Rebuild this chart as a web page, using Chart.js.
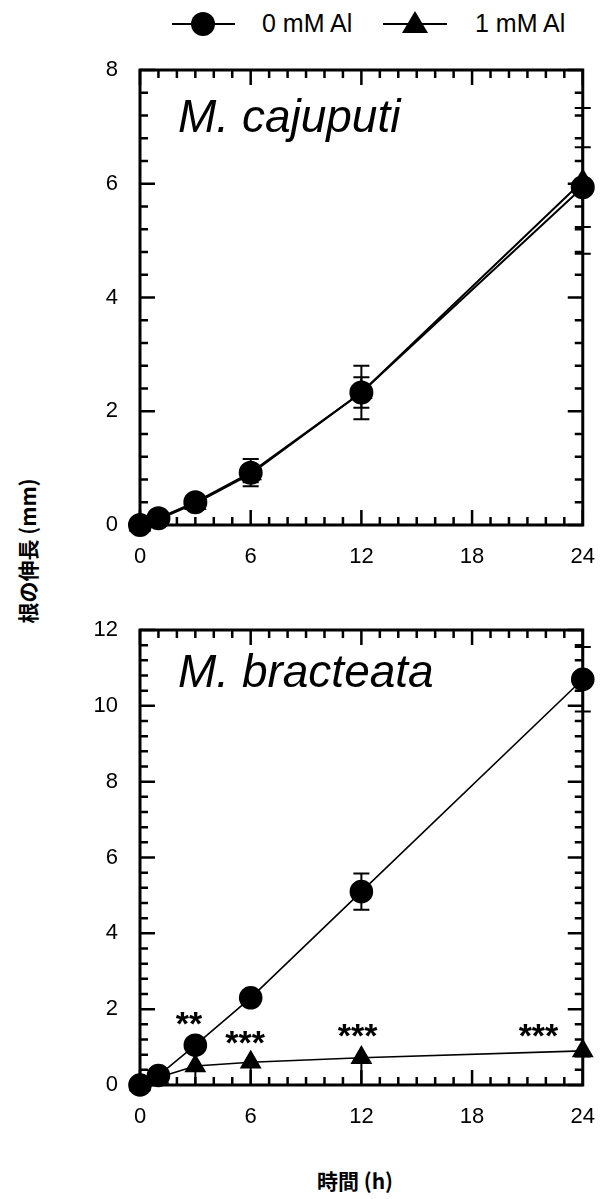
<!DOCTYPE html>
<html>
<head>
<meta charset="utf-8">
<script src="https://cdn.jsdelivr.net/npm/chart.js@4"></script>
<style>
  body { margin: 0; background: #fff; width: 606px; height: 1199px; position: relative; overflow: hidden;
         font-family: "Liberation Sans", Arial, sans-serif; }
  .pane { position: absolute; left: 0; width: 606px; height: 540px; }
  #top { top: 40px; }
  #bottom { top: 600px; }
  .lbl { position: absolute; font-size: 25px; color: #000; white-space: nowrap; }
  .cjk { position: absolute; font-family: "Noto Sans CJK JP", sans-serif; font-weight: bold; font-size: 21px; white-space: nowrap; }
</style>
</head>
<body>
<svg style="position:absolute;left:160px;top:8px" width="300" height="32">
  <line x1="12" y1="16" x2="75" y2="16" stroke="#000" stroke-width="2"/>
  <circle cx="43" cy="16" r="12" fill="#000"/>
  <line x1="223" y1="16" x2="287" y2="16" stroke="#000" stroke-width="2"/>
  <polygon points="255,3 268,25 242,25" fill="#000"/>
</svg>
<div class="lbl" style="left:262px;top:9px">0 mM Al</div>
<div class="lbl" style="left:475px;top:9px">1 mM Al</div>
<div class="cjk" style="left:27px;top:551px;transform:translate(-50%,-50%) rotate(-90deg)">根の伸長 (mm)</div>
<div class="cjk" style="left:355px;top:1180px;transform:translate(-50%,-50%)">時間 (h)</div>

<div class="pane" id="top"><canvas id="c1" width="606" height="540"></canvas></div>
<div class="pane" id="bottom"><canvas id="c2" width="606" height="540"></canvas></div>

<script>
const hours = [0, 1, 3, 6, 12, 24];

// M. cajuputi
const cajuputi0 = [0, 0.12, 0.40, 0.92, 2.33, 5.94];
const cajuputi0Err = [0, 0.02, 0.05, 0.24, 0.27, 0.70];
const cajuputi1 = [0, 0.10, 0.38, 0.90, 2.33, 6.05];
const cajuputi1Err = [0, 0.02, 0.05, 0.15, 0.47, 1.28];

// M. bracteata
const bracteata0 = [0, 0.25, 1.05, 2.30, 5.10, 10.70];
const bracteata0Err = [0, 0.05, 0.08, 0.10, 0.48, 0.85];
const bracteata1 = [0, 0.20, 0.50, 0.60, 0.72, 0.90];
const bracteata1ErrLow = [0, 0.05, 0.50, 0.60, 0.72, 0.15];

// significance marks (bottom panel)
const starText = ['**', '***', '***', '***'];
const starX = [2.65, 5.7, 11.8, 21.6];
const starY = [1.78, 1.27, 1.46, 1.46];

const xTicks = [0, 6, 12, 18, 24];

const frame = {
  id: 'frame',
  afterDraw(chart, args, opts) {
    const { ctx, chartArea: a, scales: { x, y } } = chart;
    ctx.save();
    ctx.strokeStyle = '#000';
    ctx.lineCap = 'butt';
    // minor/major ticks on all sides
    ctx.lineWidth = 2.5;
    for (let h = 0; h <= 24; h++) {
      const px = x.getPixelForValue(h);
      const len = h % 6 === 0 ? 15 : 8;
      ctx.beginPath();
      ctx.moveTo(px, a.bottom); ctx.lineTo(px, a.bottom - len);
      ctx.moveTo(px, a.top); ctx.lineTo(px, a.top + len);
      ctx.stroke();
    }
    const n = Math.round(opts.ymax / 0.4);
    for (let i = 0; i <= n; i++) {
      const py = y.getPixelForValue(i * 0.4);
      const len = i % 5 === 0 ? 15 : 8;
      ctx.beginPath();
      ctx.moveTo(a.left, py); ctx.lineTo(a.left + len, py);
      ctx.moveTo(a.right, py); ctx.lineTo(a.right - len, py);
      ctx.stroke();
    }
    ctx.lineWidth = 3;
    ctx.strokeRect(a.left, a.top, a.right - a.left, a.bottom - a.top);
    // panel title
    ctx.fillStyle = '#000';
    ctx.font = 'italic 46px "Liberation Sans", Arial, sans-serif';
    ctx.textBaseline = 'alphabetic';
    ctx.fillText(opts.title, 178, a.top + opts.titleDy);
    // stars
    if (opts.stars) {
      ctx.font = 'bold 34px "Liberation Sans", Arial, sans-serif';
      ctx.textAlign = 'center';
      ctx.textBaseline = 'middle';
      starText.forEach((t, i) => {
        ctx.fillText(t, x.getPixelForValue(starX[i]), y.getPixelForValue(starY[i]) + 8);
      });
    }
    ctx.restore();
  }
};

const errorBars = {
  id: 'errorBars',
  afterDatasetsDraw(chart) {
    const { ctx, scales: { x, y } } = chart;
    ctx.save();
    ctx.strokeStyle = '#000';
    ctx.lineWidth = 2;
    chart.data.datasets.forEach(ds => {
      ds.data.forEach((p, i) => {
        const lo = ds.errLow ? ds.errLow[i] : ds.err[i];
        const hi = ds.errLow ? 0 : ds.err[i];
        if (!lo && !hi) return;
        const px = x.getPixelForValue(p.x);
        const pt = y.getPixelForValue(p.y + hi), pb = y.getPixelForValue(p.y - lo);
        ctx.beginPath();
        ctx.moveTo(px, pt); ctx.lineTo(px, pb);
        if (hi) { ctx.moveTo(px - 8, pt); ctx.lineTo(px + 8, pt); }
        ctx.moveTo(px - 8, pb); ctx.lineTo(px + 8, pb);
        ctx.stroke();
      });
    });
    ctx.restore();
  }
};

function makeChart(id, d0, e0, d1, e1, e1Low, ymax, title, titleDy, stars, lw) {
  const ctx = document.getElementById(id).getContext('2d');
  const tickFont = { size: 22, family: '"Liberation Sans", Arial, sans-serif' };
  return new Chart(ctx, {
    type: 'scatter',
    data: {
      datasets: [{
        label: '0 mM Al',
        data: d0.map((v, i) => ({ x: hours[i], y: v })),
        err: e0,
        showLine: true,
        borderColor: '#000', backgroundColor: '#000',
        borderWidth: lw,
        pointStyle: 'circle', pointRadius: 11,
        clip: false
      }, {
        label: '1 mM Al',
        data: d1.map((v, i) => ({ x: hours[i], y: v })),
        err: e1, errLow: e1Low,
        showLine: true,
        borderColor: '#000', backgroundColor: '#000',
        borderWidth: lw,
        pointStyle: 'triangle', pointRadius: 11,
        clip: false
      }]
    },
    options: {
      responsive: false,
      animation: false,
      events: [],
      layout: { padding: { left: 0, right: 13, top: 30, bottom: 0 } },
      plugins: {
        legend: { display: false },
        tooltip: { enabled: false },
        frame: { ymax: ymax, title: title, titleDy: titleDy, stars: stars }
      },
      scales: {
        x: {
          type: 'linear', min: 0, max: 24,
          afterBuildTicks: s => { s.ticks = xTicks.map(v => ({ value: v })); },
          afterFit: s => { s.height = 55; },
          grid: { display: false },
          border: { display: false },
          ticks: { color: '#000', font: tickFont, padding: 11, maxRotation: 0, autoSkip: false }
        },
        y: {
          min: 0, max: ymax,
          afterFit: s => { s.width = 140; },
          grid: { display: false },
          border: { display: false },
          ticks: { stepSize: 2, color: '#000', font: tickFont, padding: 14 }
        }
      }
    },
    plugins: [frame, errorBars]
  });
}

makeChart('c1', cajuputi0, cajuputi0Err, cajuputi1, cajuputi1Err, null, 8, 'M. cajuputi', 62, false, 2);
makeChart('c2', bracteata0, bracteata0Err, bracteata1, null, bracteata1ErrLow, 12, 'M. bracteata', 57, true, 1.6);
</script>
</body>
</html>
